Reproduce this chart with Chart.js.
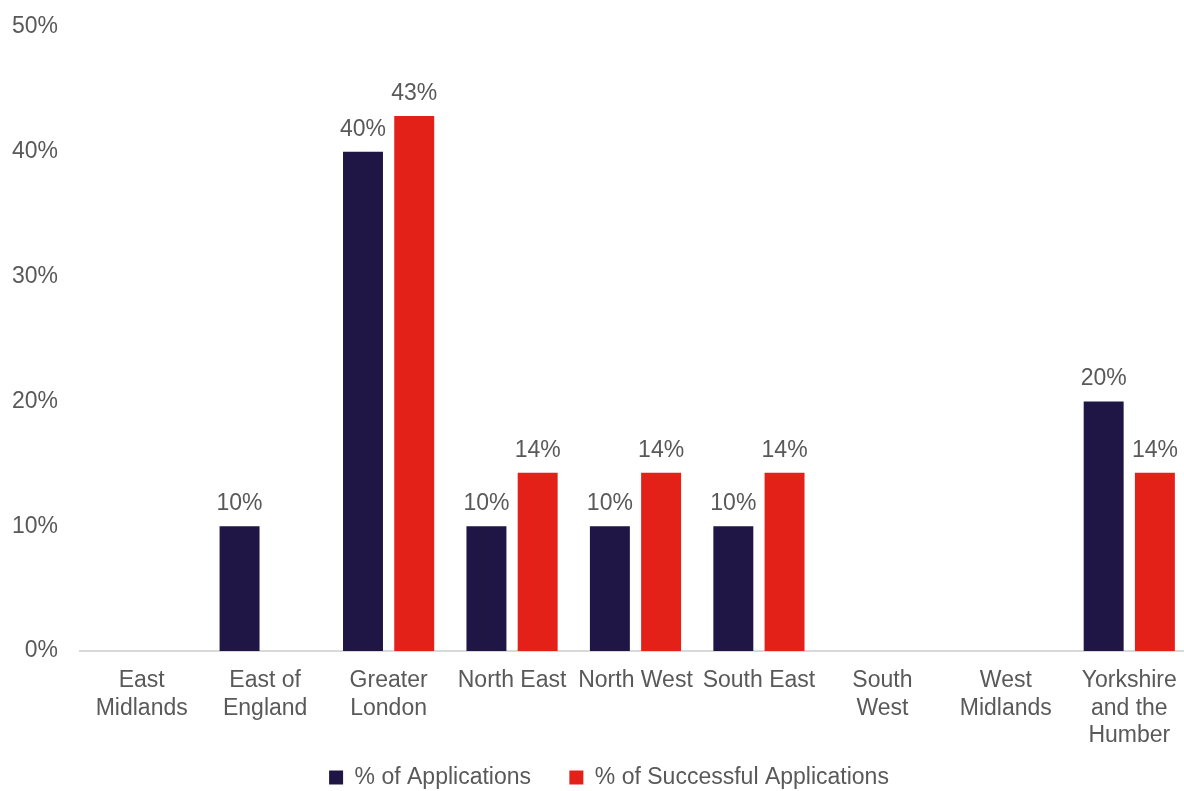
<!DOCTYPE html>
<html>
<head>
<script src="https://cdn.jsdelivr.net/npm/chart.js"></script>
<title>Applications by region</title>
<style>
  body { margin: 0; background: #fff; }
  #wrap { width: 1184px; height: 791px; }
</style>
</head>
<body>
<div id="wrap"><canvas id="myChart"></canvas></div>
<script>
const regions = [
  ['East', 'Midlands'], ['East of', 'England'], ['Greater', 'London'],
  'North East', 'North West', 'South East', ['South', 'West'],
  ['West', 'Midlands'], ['Yorkshire', 'and the', 'Humber']
];
const applications = [0, 10, 40, 10, 10, 10, 0, 0, 20];
const successful = [0, 0, 42.86, 14.29, 14.29, 14.29, 0, 0, 14.29];
const yTicks = [0, 10, 20, 30, 40, 50];

const textColor = '#595959';
const fontFamily = '"Liberation Sans", Arial, sans-serif';

// draws the % value above each non-zero bar
const valueLabels = {
  id: 'valueLabels',
  afterDatasetsDraw(chart) {
    const ctx = chart.ctx;
    ctx.save();
    ctx.font = '23px ' + fontFamily;
    ctx.fillStyle = textColor;
    ctx.textAlign = 'center';
    ctx.textBaseline = 'alphabetic';
    chart.data.datasets.forEach((ds, i) => {
      chart.getDatasetMeta(i).data.forEach((bar, j) => {
        const v = ds.data[j];
        if (!v) return;
        ctx.fillText(Math.round(v) + '%', bar.x, bar.y - 16);
      });
    });
    ctx.restore();
  }
};

// original runs the plot a few px past the right edge, and its legend sits lower/right
const layoutTweak = {
  id: 'layoutTweak',
  afterLayout(chart) {
    const x = chart.scales.x;
    x.right += 7; x.width += 7;
    x.configure();
    chart.chartArea.right += 7;
    chart.chartArea.width += 7;
    const L = chart.legend;
    L.top += 8; L.bottom += 8;
    L.left += 17; L.right += 17;
  }
};

new Chart(document.getElementById('myChart'), {
  type: 'bar',
  data: {
    labels: regions,
    datasets: [
      { label: '% of Applications', data: applications, backgroundColor: '#1F1646' },
      { label: '% of Successful Applications', data: successful, backgroundColor: '#E32119' }
    ]
  },
  options: {
    responsive: true,
    maintainAspectRatio: false,
    animation: false,
    categoryPercentage: 0.83,
    barPercentage: 0.78,
    layout: { padding: 0 },
    scales: {
      x: {
        grid: { display: false, drawTicks: false },
        border: { color: '#D9D9D9', width: 2 },
        afterFit: axis => { axis.height = 107; axis.paddingLeft = 0; axis.paddingRight = 0; },
        ticks: {
          color: textColor, maxRotation: 0, autoSkip: false, padding: 16,
          font: { family: fontFamily, size: 23, lineHeight: 1.2 }
        }
      },
      y: {
        min: 0, max: 50,
        afterBuildTicks: axis => { axis.ticks = yTicks.map(v => ({ value: v })); },
        afterFit: axis => { axis.width = 80; axis.paddingTop = 27; },
        grid: { display: false, drawTicks: false },
        border: { display: false },
        ticks: {
          color: textColor, padding: 22,
          font: { family: fontFamily, size: 23 },
          callback: v => v + '%'
        }
      }
    },
    plugins: {
      legend: {
        position: 'bottom',
        labels: {
          color: textColor, boxWidth: 14, boxHeight: 14, padding: 0,
          font: { family: fontFamily, size: 23 },
          // trailing spaces give the wider gap between the two entries
          generateLabels: chart => {
            const items = Chart.defaults.plugins.legend.labels.generateLabels(chart);
            items.forEach((it, i) => { if (i < items.length - 1) it.text += '      '; });
            return items;
          }
        }
      },
      tooltip: { enabled: false }
    }
  },
  plugins: [valueLabels, layoutTweak]
});
</script>
</body>
</html>
